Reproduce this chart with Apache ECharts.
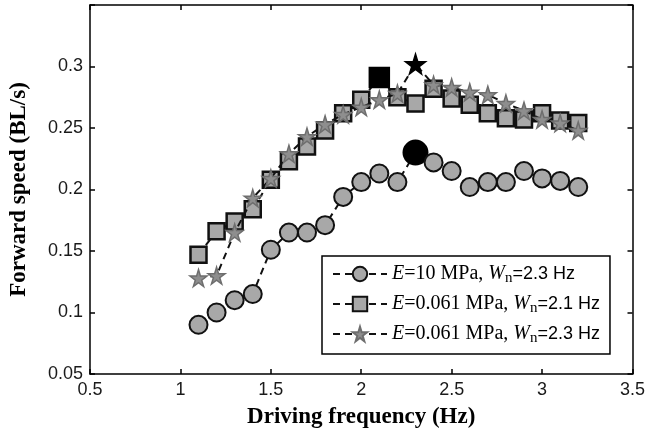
<!DOCTYPE html>
<html>
<head>
<meta charset="utf-8">
<script src="https://cdn.jsdelivr.net/npm/echarts@6/dist/echarts.min.js"></script>
<style>
  html, body { margin: 0; padding: 0; background: #fff; }
  #myChart { width: 648px; height: 439px; }
</style>
</head>
<body>
<div id="myChart"></div>
<script>
  // driving frequency (Hz)
  const freq = [1.1, 1.2, 1.3, 1.4, 1.5, 1.6, 1.7, 1.8, 1.9, 2.0, 2.1,
    2.2, 2.3, 2.4, 2.5, 2.6, 2.7, 2.8, 2.9, 3.0, 3.1, 3.2]
  // forward speed (BL/s)
  const speedE10 = [0.090, 0.100, 0.110, 0.115, 0.151, 0.165, 0.165, 0.171, 0.194, 0.206, 0.213,
    0.206, 0.230, 0.222, 0.215, 0.202, 0.206, 0.206, 0.215, 0.209, 0.207, 0.202]
  const speedE061a = [0.147, 0.166, 0.174, 0.184, 0.208, 0.223, 0.235, 0.248, 0.262, 0.273, 0.291,
    0.275, 0.270, 0.282, 0.274, 0.269, 0.262, 0.258, 0.257, 0.262, 0.256, 0.254]
  const speedE061b = [0.128, 0.130, 0.165, 0.193, 0.209, 0.229, 0.243, 0.253, 0.261, 0.267, 0.273,
    0.278, 0.302, 0.285, 0.283, 0.279, 0.277, 0.270, 0.264, 0.257, 0.254, 0.248]
  // frequency of the black (peak) marker in each series
  const peakFreq = [2.3, 2.1, 2.3]
  const seriesNames = ['E10', 'E061a', 'E061b']
  const xTicks = [0.5, 1, 1.5, 2, 2.5, 3, 3.5]
  const yTicks = [0.05, 0.1, 0.15, 0.2, 0.25, 0.3]

  const starPath = 'path://M50,0 L61,35 L98,35 L68,57 L79,91 L50,70 L21,91 L32,57 L2,35 L39,35 Z'

  function build(values, peak, peakStyle, peakSize) {
    return freq.map((f, i) => {
      if (Math.abs(f - peak) < 1e-6) {
        return { value: [f, values[i]], symbolSize: peakSize, itemStyle: peakStyle }
      }
      return [f, values[i]]
    })
  }

  let myChart = echarts.init(document.getElementById('myChart'))

  const tickStyle = { show: true, inside: true, length: 5, lineStyle: { color: '#000', width: 1.5 } }
  const lineAxis = { show: true, lineStyle: { color: '#000', width: 1.5 } }
  const labelFont = { fontFamily: 'Liberation Sans', fontSize: 18, color: '#1a1a1a' }
  const titleFont = { fontFamily: 'Liberation Serif', fontSize: 23, fontWeight: 'bold', color: '#000' }

  myChart.setOption({
    animation: false,
    grid: { left: 87, right: 15, top: 5, bottom: 65 },
    legend: {
      orient: 'vertical',
      left: 322,
      top: 256,
      padding: [8, 10, 8, 10],
      itemGap: 8,
      itemWidth: 54,
      itemHeight: 18,
      borderColor: '#000',
      borderWidth: 1.5,
      backgroundColor: '#fff',
      formatter: name => {
        if (name === 'E10') return '{i|E}{t|=10 MPa, }{i|W}{sub|n}{a|=2.3 Hz}'
        if (name === 'E061a') return '{i|E}{t|=0.061 MPa, }{i|W}{sub|n}{a|=2.1 Hz}'
        return '{i|E}{t|=0.061 MPa, }{i|W}{sub|n}{a|=2.3 Hz}'
      },
      textStyle: {
        rich: {
          i: { fontFamily: 'Liberation Serif', fontStyle: 'italic', fontSize: 20, color: '#000' },
          t: { fontFamily: 'Liberation Serif', fontSize: 20, color: '#000' },
          sub: { fontFamily: 'Liberation Serif', fontSize: 15, color: '#000', padding: [9, 0, 0, 0] },
          a: { fontFamily: 'Liberation Sans', fontSize: 18, color: '#000' }
        }
      },
      data: seriesNames
    },
    xAxis: [
      {
        type: 'value',
        min: 0.5,
        max: 3.5,
        interval: 0.5,
        name: 'Driving frequency (Hz)',
        nameLocation: 'middle',
        nameGap: 32,
        nameTextStyle: titleFont,
        axisLine: lineAxis,
        axisTick: tickStyle,
        axisLabel: Object.assign({ margin: 7, formatter: v => xTicks.includes(v) ? String(v) : '' }, labelFont),
        splitLine: { show: false }
      },
      {
        type: 'value',
        position: 'top',
        min: 0.5,
        max: 3.5,
        interval: 0.5,
        axisLine: lineAxis,
        axisTick: tickStyle,
        axisLabel: { show: false },
        splitLine: { show: false }
      }
    ],
    yAxis: [
      {
        type: 'value',
        min: 0.05,
        max: 0.35,
        interval: 0.05,
        name: 'Forward speed (BL/s)',
        nameLocation: 'middle',
        nameGap: 59,
        nameTextStyle: titleFont,
        axisLine: lineAxis,
        axisTick: tickStyle,
        axisLabel: Object.assign({
          margin: 7,
          formatter: v => {
            let r = Math.round(v * 100) / 100
            return yTicks.includes(r) ? String(r) : ''
          }
        }, labelFont),
        splitLine: { show: false }
      },
      {
        type: 'value',
        position: 'right',
        min: 0.05,
        max: 0.35,
        interval: 0.05,
        axisLine: lineAxis,
        axisTick: tickStyle,
        axisLabel: { show: false },
        splitLine: { show: false }
      }
    ],
    series: [
      {
        name: 'E10',
        type: 'line',
        data: build(speedE10, peakFreq[0], { color: '#000', borderColor: '#000' }, 24),
        symbol: 'circle',
        symbolSize: 18,
        itemStyle: { color: '#a8a8a8', borderColor: '#111', borderWidth: 2 },
        lineStyle: { color: '#111', width: 2, type: [7, 5] },
        z: 2
      },
      {
        name: 'E061a',
        type: 'line',
        data: build(speedE061a, peakFreq[1], { color: '#000', borderColor: '#000' }, 19),
        symbol: 'rect',
        symbolSize: 16,
        itemStyle: { color: '#a8a8a8', borderColor: '#111', borderWidth: 2.5 },
        lineStyle: { color: '#111', width: 2, type: [7, 5] },
        z: 3
      },
      {
        name: 'E061b',
        type: 'line',
        data: build(speedE061b, peakFreq[2], { color: '#000', borderColor: '#000' }, 20),
        symbol: starPath,
        symbolSize: 17,
        itemStyle: { color: '#8e8e8e', borderColor: '#6e6e6e', borderWidth: 1.5 },
        lineStyle: { color: '#111', width: 2, type: [7, 5] },
        z: 4
      }
    ]
  })
  window.addEventListener('resize', () => {
    myChart.resize()
  })
</script>
</body>
</html>
